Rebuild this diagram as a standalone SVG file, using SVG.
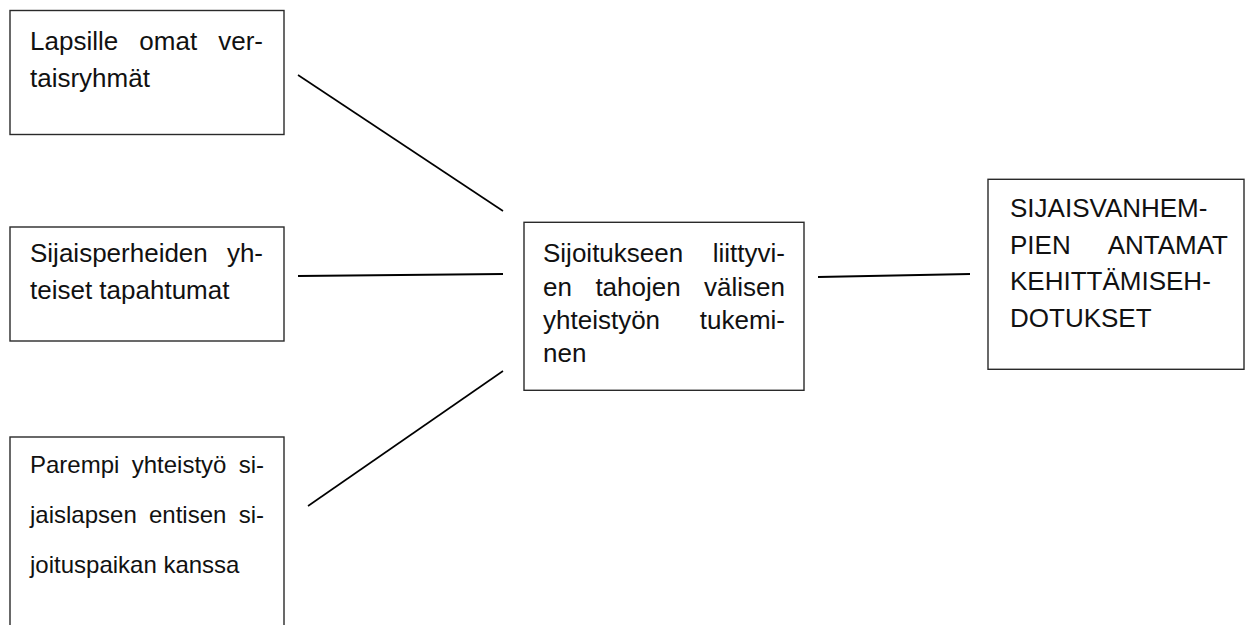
<svg xmlns="http://www.w3.org/2000/svg" width="1251" height="625" viewBox="0 0 1251 625">
<style>
.box{fill:#fff;stroke:#2a2a2a;stroke-width:1.4}
.t{font-family:"Liberation Sans",Arial,sans-serif;font-size:26px;fill:#111}
.t24{font-size:24px}
.e{text-anchor:end}
.ln{stroke:#000;stroke-width:1.6;fill:none}
</style>
<rect width="1251" height="625" fill="#fff"/>
<g id="connectors">
<line class="ln" x1="298" y1="75" x2="503" y2="211"/>
<line class="ln" x1="298" y1="276" x2="503" y2="274" style="stroke-width:2"/>
<line class="ln" x1="308" y1="506" x2="503" y2="371"/>
<line class="ln" x1="818" y1="277" x2="970" y2="274" style="stroke-width:2"/>
</g>
<g id="node-vertaisryhmat">
<rect class="box" x="10" y="10.5" width="274" height="124"/>
<text class="t" x="30" y="50">Lapsille</text>
<text class="t" x="139.3" y="50">omat</text>
<text class="t e" x="263" y="50">ver-</text>
<text class="t" x="30" y="86.5">taisryhmät</text>
</g>
<g id="node-tapahtumat">
<rect class="box" x="10" y="227" width="274" height="114"/>
<text class="t" x="30" y="262">Sijaisperheiden</text>
<text class="t e" x="263" y="262">yh-</text>
<text class="t" x="30" y="299">teiset tapahtumat</text>
</g>
<g id="node-yhteistyo">
<rect class="box" x="10" y="437" width="274" height="220"/>
<text class="t t24" x="30" y="473">Parempi</text>
<text class="t t24" x="131.7" y="473">yhteistyö</text>
<text class="t t24 e" x="264" y="473">si-</text>
<text class="t t24" x="30" y="523">jaislapsen</text>
<text class="t t24" x="149" y="523">entisen</text>
<text class="t t24 e" x="264" y="523">si-</text>
<text class="t t24" x="30" y="573">joituspaikan kanssa</text>
</g>
<g id="node-keskus">
<rect class="box" x="524" y="222.3" width="280" height="168"/>
<text class="t" x="543" y="262">Sijoitukseen</text>
<text class="t e" x="785" y="262">liittyvi-</text>
<text class="t" x="543" y="295.5">en</text>
<text class="t" x="595.4" y="295.5">tahojen</text>
<text class="t e" x="785" y="295.5">välisen</text>
<text class="t" x="543" y="329">yhteistyön</text>
<text class="t e" x="785" y="329">tukemi-</text>
<text class="t" x="543" y="362">nen</text>
</g>
<g id="node-ehdotukset">
<rect class="box" x="988" y="179.3" width="256" height="190"/>
<text class="t" x="1010" y="217">SIJAISVANHEM-</text>
<text class="t" x="1010" y="253.7">PIEN</text>
<text class="t e" x="1228" y="253.7">ANTAMAT</text>
<text class="t" x="1010" y="290.4">KEHITTÄMISEH-</text>
<text class="t" x="1010" y="327.1">DOTUKSET</text>
</g>
</svg>
